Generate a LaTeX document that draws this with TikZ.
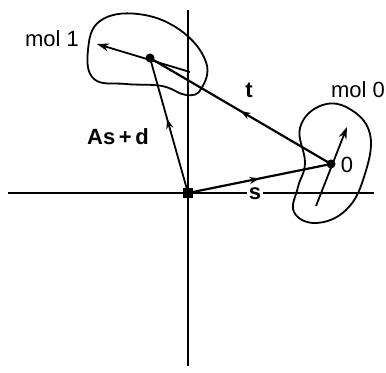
\documentclass[tikz,border=0pt]{standalone}
\usepackage{fontspec}
\setmainfont{Liberation Sans}
\usetikzlibrary{arrows.meta,decorations.markings}

\begin{document}
\begin{tikzpicture}[
  x=0.5pt, y=-0.5pt,
  line width=0.9pt,
  vec/.style={line width=1.1pt},
  midarrow/.style={postaction={decorate},
    decoration={markings, mark=at position #1 with {\arrow{Stealth[length=5pt,width=3.5pt]}}}},
  orient/.style={line width=0.9pt, -{Stealth[length=6pt,width=4pt]}},
  dot/.style={circle, fill, inner sep=0pt, minimum size=4.5pt},
  sq/.style={rectangle, fill, inner sep=0pt, minimum size=5pt},
  lab/.style={font=\fontsize{11}{13}\selectfont},
  blab/.style={font=\fontsize{11}{13}\selectfont\bfseries}
]
\useasboundingbox (0,0) rectangle (386,373);

% axes
\coordinate (xl) at (8,193);
\coordinate (xr) at (374,193);
\coordinate (yt) at (188,10);
\coordinate (yb) at (188,366);
\draw (xl) -- (xr);
\draw (yt) -- (yb);

% molecule outlines
\draw plot[smooth cycle, tension=0.7] coordinates {
  (88,50) (100,21) (138,14) (180,30) (206,62) (201,89) (186,95) (162,86) (126,84) (94,79)};
\draw plot[smooth cycle, tension=0.7] coordinates {
  (320,106) (348,108) (370,134) (364,177) (346,210) (316,223) (294,212) (298,187) (305,163) (300,128)};

% points
\node[sq]  (origin) at (188,193) {};
\node[dot] (mol0) at (331,164) {};
\node[dot] (mol1) at (150,58) {};

% orientation vectors
\coordinate (o0s) at (316,206);
\coordinate (o0e) at (347,127);
\coordinate (o1s) at (190,72);
\coordinate (o1e) at (97,44);
\draw[orient] (o0s) -- (o0e);
\draw[orient] (o1s) -- (o1e);

% translation vectors
\draw[vec, midarrow=0.5] (origin.center) -- (mol0.center);
\draw[vec, midarrow=0.5] (mol0.center) -- (mol1.center);
\draw[midarrow=0.55] (origin.center) -- (mol1.center);

% labels
\node[blab, fill=white, inner sep=1pt] (slab) at (255,194) {s};
\node[blab] (tlab) at (249,90) {t};
\node[blab] (aslab) at (118,137) {As\,+\,d};
\node[lab] (m0lab) at (358,90) {mol 0};
\node[lab] (m1lab) at (52,39) {mol 1};
\node[lab] (zlab) at (347,165) {0};
\end{tikzpicture}
\end{document}
